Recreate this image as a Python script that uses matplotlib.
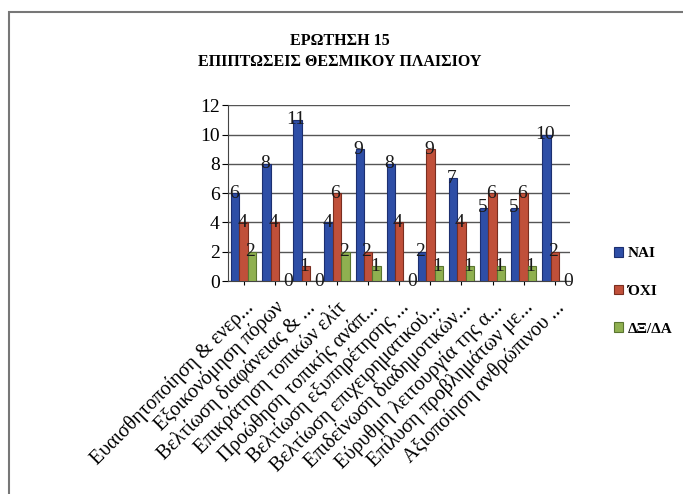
import numpy as np
import matplotlib.pyplot as plt
from matplotlib.patches import Rectangle

plt.rcParams['font.family'] = ['Liberation Serif', 'DejaVu Serif']

categories = ['Ευαισθητοποίηση & ενερ...', 'Εξοικονόμηση πόρων', 'Βελτίωση διαφάνειας & ...',
              'Επικράτηση τοπικών ελίτ', 'Προώθηση τοπικής ανάπ...', 'Βελτίωση εξυπηρέτησης ...',
              'Βελτίωση επιχειρηματικού...', 'Επιδείνωση διαδημοτικών...', 'Εύρυθμη λειτουργία της α...',
              'Επίλυση προβλημάτων με...', 'Αξιοποίηση ανθρώπινου ...']
nai = [6, 8, 11, 4, 9, 8, 2, 7, 5, 5, 10]
oxi = [4, 4, 1, 6, 2, 4, 9, 4, 6, 6, 2]
dxda = [2, 0, 0, 2, 1, 0, 1, 1, 1, 1, 0]
series_names = ['ΝΑΙ', 'ΌΧΙ', 'ΔΞ/ΔΑ']
colors = ['#2e4ea6', '#c0503a', '#8fb050']
edges = ['#1c2f70', '#7a2e20', '#5a7530']

fig = plt.figure(figsize=(6.83, 4.94), dpi=100)
ax = fig.add_axes([0.334, 0.431, 0.501, 0.356])

x = np.arange(len(categories))
w = 0.27
for i, vals in enumerate([nai, oxi, dxda]):
    pos = x + (i - 1) * w
    ax.bar(pos, vals, w, color=colors[i], edgecolor=edges[i], linewidth=0.8,
           label=series_names[i], zorder=3)
    for p, v in zip(pos, vals):
        off = 0.15 if v == 0 else -0.05
        ax.text(p + off, v, str(v), ha='center', va='center', fontsize=14,
                color='#1a1a1a', zorder=4)

ax.set_ylim(0, 12)
ax.set_xlim(-0.5, len(categories) - 0.5)
ax.set_yticks(range(0, 13, 2))
ax.tick_params(axis='y', labelsize=14, length=4, pad=2)
ax.tick_params(axis='x', length=3, pad=9)
ax.set_xticks(x)
ax.set_xticklabels(categories, rotation=45, ha='right', rotation_mode='anchor', fontsize=14.5)
ax.yaxis.grid(True, color='#555555', linewidth=1.0, zorder=0)
for s in ['top', 'right']:
    ax.spines[s].set_visible(False)
ax.spines['left'].set_color('#444444')
ax.spines['bottom'].set_color('#444444')

fig.text(0.497, 0.918, 'ΕΡΩΤΗΣΗ 15', ha='center', va='center', fontsize=11.5,
         fontweight='bold', fontstretch='condensed')
fig.text(0.497, 0.874, 'ΕΠΙΠΤΩΣΕΙΣ ΘΕΣΜΙΚΟΥ ΠΛΑΙΣΙΟΥ', ha='center', va='center', fontsize=11.5,
         fontweight='bold')

fig.legend(loc='upper left', bbox_to_anchor=(0.899, 0.5), frameon=False,
           prop={'size': 11, 'weight': 'bold'},
           handlelength=0.6, handleheight=0.6, handletextpad=0.3, labelspacing=1.6,
           borderaxespad=0, borderpad=0)

fig.patches.append(Rectangle((0.013, -0.01), 1.0, 0.985, transform=fig.transFigure,
                             fill=False, edgecolor='#777777', linewidth=1.5))

fig.savefig('out.png', dpi=100)
